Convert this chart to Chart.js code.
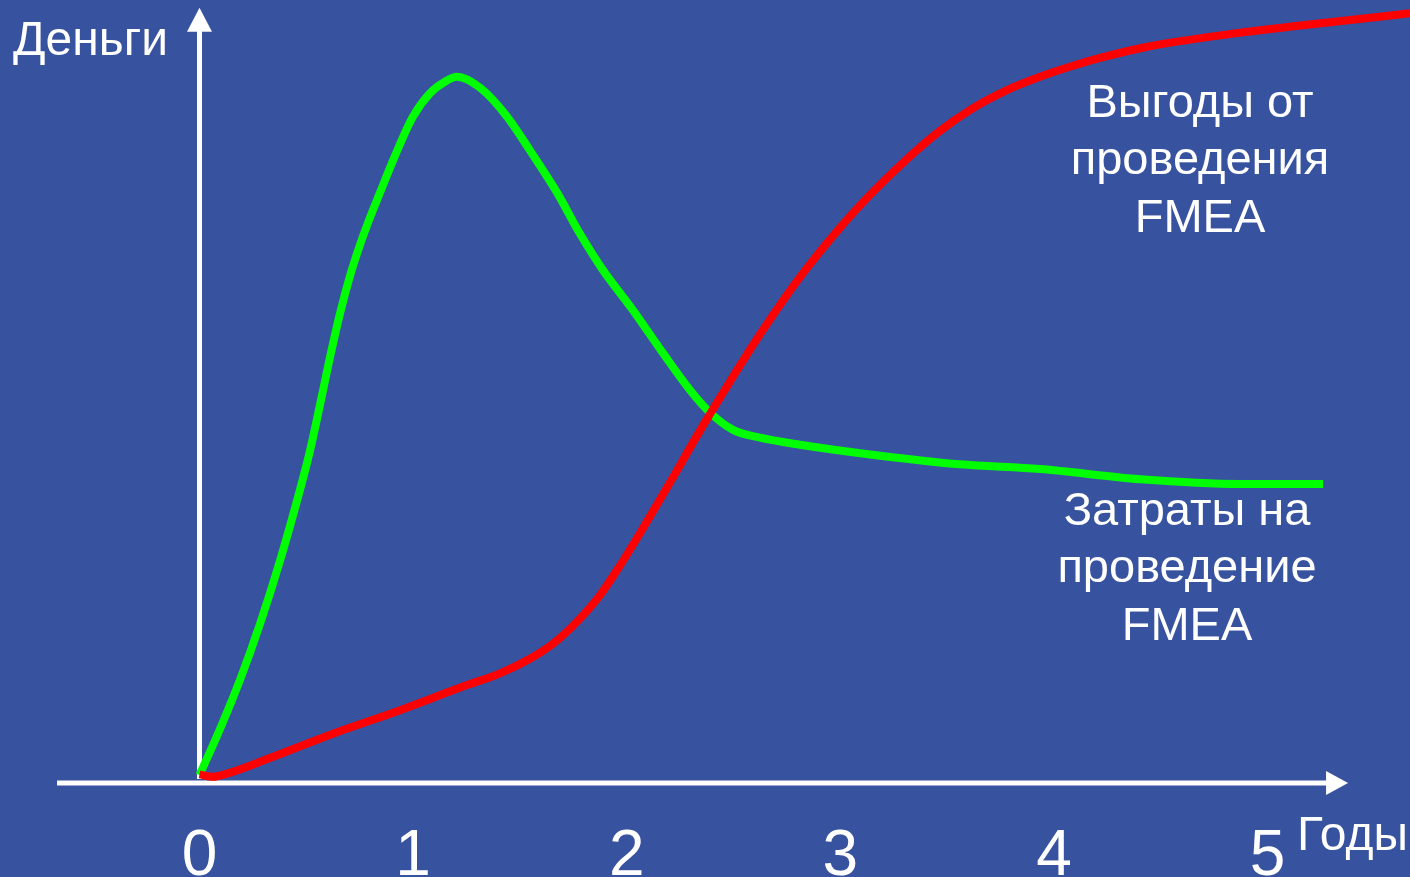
<!DOCTYPE html>
<html>
<head>
<meta charset="utf-8">
<script src="https://cdn.jsdelivr.net/npm/chart.js@4/dist/chart.umd.min.js"></script>
<style>
  html, body { margin: 0; padding: 0; background: #37529F; overflow: hidden; }
  canvas { display: block; }
</style>
</head>
<body>
<canvas id="c" width="1410" height="877" style="width:1410px;height:877px"></canvas>
<script>
// Years on the horizontal axis
const YEAR_TICKS = [0, 1, 2, 3, 4, 5];
const YEAR_LABELS = ['0', '1', '2', '3', '4', '5'];

// Затраты на проведение FMEA (green)
const costYears = [0.00, 0.096, 0.190, 0.283, 0.377, 0.470, 0.517, 0.564, 0.611, 0.658, 0.705, 0.751, 0.798,
  0.845, 0.915, 0.999, 1.079, 1.145, 1.206, 1.313, 1.440, 1.547, 1.674, 1.780, 1.889, 2.029, 2.170,
  2.296, 2.390, 2.498, 2.624, 2.811, 3.186, 3.560, 3.935, 4.403, 4.871, 5.260];
const costMoney = [1.0, 6.9, 13.2, 20.3, 28.4, 37.4, 42.4, 48.3, 54.4, 60.0, 64.8, 68.7, 72.2,
  75.4, 80.1, 85.1, 88.1, 89.5, 90.2, 88.8, 85.1, 80.8, 75.4, 70.2, 65.5, 60.4, 54.9,
  50.2, 47.3, 45.1, 44.1, 43.2, 41.8, 40.7, 40.1, 38.8, 38.2, 38.2];

// Выгоды от проведения FMEA (red)
const benefitYears = [0.00, 0.06, 0.14, 0.32, 0.625, 0.939, 1.252, 1.407, 1.561, 1.655, 1.767, 1.875, 1.969,
  2.062, 2.203, 2.343, 2.484, 2.624, 2.811, 2.998, 3.153, 3.312, 3.467, 3.621, 3.780, 3.935, 4.089,
  4.216, 4.431, 4.866, 5.302, 5.667];
const benefitMoney = [1.1, 0.8, 1.3, 3.1, 6.3, 9.3, 12.5, 14.0, 16.1, 17.8, 20.6, 24.0, 27.8,
  31.9, 38.4, 45.0, 51.3, 57.3, 64.6, 70.9, 75.5, 79.7, 83.3, 86.2, 88.5, 90.2, 91.6,
  92.6, 94.0, 95.8, 97.2, 98.3];

// Text blocks
const AXIS_Y_TITLE = 'Деньги';
const AXIS_X_TITLE = 'Годы';
const BENEFIT_TEXT = ['Выгоды от', 'проведения', 'FMEA'];
const COST_TEXT = ['Затраты на', 'проведение', 'FMEA'];

const FONT = '"Liberation Sans", Arial, Helvetica, sans-serif';
const WHITE = '#FFFFFF';

function toPoints(xs, ys) { return xs.map((x, i) => ({ x, y: ys[i] })); }

// Draws the two arrowed axes through the origin of the data scales
const arrowAxes = {
  id: 'arrowAxes',
  beforeDatasetsDraw(chart) {
    const { ctx, scales: { x, y } } = chart;
    const ox = x.getPixelForValue(0), oy = y.getPixelForValue(0);
    const xEnd = x.getPixelForValue(5.377), xStart = x.getPixelForValue(-0.667);
    const yEnd = y.getPixelForValue(99.0);
    ctx.save();
    ctx.strokeStyle = WHITE; ctx.fillStyle = WHITE; ctx.lineWidth = 5;
    ctx.beginPath(); ctx.moveTo(xStart, oy); ctx.lineTo(xEnd - 16, oy); ctx.stroke();
    ctx.beginPath(); ctx.moveTo(xEnd, oy); ctx.lineTo(xEnd - 22, oy - 12); ctx.lineTo(xEnd - 22, oy + 12); ctx.closePath(); ctx.fill();
    ctx.beginPath(); ctx.moveTo(ox, oy - 4); ctx.lineTo(ox, yEnd + 18); ctx.stroke();
    ctx.beginPath(); ctx.moveTo(ox, yEnd); ctx.lineTo(ox - 12.5, yEnd + 24); ctx.lineTo(ox + 12.5, yEnd + 24); ctx.closePath(); ctx.fill();
    ctx.restore();
  }
};

// Axis titles and curve captions
const captions = {
  id: 'captions',
  afterDatasetsDraw(chart) {
    const { ctx, scales: { x, y } } = chart;
    ctx.save();
    ctx.fillStyle = WHITE;
    ctx.textBaseline = 'alphabetic';
    ctx.font = '48px ' + FONT;
    ctx.textAlign = 'left';
    ctx.fillText(AXIS_Y_TITLE, 13, 55);
    ctx.fillText(AXIS_X_TITLE, 1297, 850);
    ctx.font = '47px ' + FONT;
    ctx.textAlign = 'center';
    const bx = x.getPixelForValue(4.684), by = y.getPixelForValue(85.1);
    BENEFIT_TEXT.forEach((t, i) => ctx.fillText(t, bx, by + i * 57.5));
    const cx = x.getPixelForValue(4.623), cy = y.getPixelForValue(32.95);
    COST_TEXT.forEach((t, i) => ctx.fillText(t, cx, cy + i * 57.5));
    ctx.restore();
  }
};

new Chart(document.getElementById('c'), {
  type: 'line',
  data: {
    datasets: [
      {
        label: 'Выгоды от проведения FMEA',
        data: toPoints(benefitYears, benefitMoney),
        borderColor: '#FF0000',
        borderWidth: 8,
        pointRadius: 0,
        cubicInterpolationMode: 'monotone',
        fill: false
      },
      {
        label: 'Затраты на проведение FMEA',
        data: toPoints(costYears, costMoney),
        borderColor: '#00FF00',
        borderWidth: 8,
        pointRadius: 0,
        cubicInterpolationMode: 'monotone',
        fill: false
      }
    ]
  },
  options: {
    responsive: false,
    animation: false,
    events: [],
    layout: { padding: 0 },
    plugins: { legend: { display: false }, tooltip: { enabled: false }, title: { display: false } },
    scales: {
      x: {
        type: 'linear',
        min: -0.934,
        max: 5.667,
        grid: { display: false, drawTicks: false },
        border: { display: false },
        afterBuildTicks: s => { s.ticks = YEAR_TICKS.map(v => ({ value: v })); },
        afterFit: s => { s.height = 58; },
        ticks: {
          color: WHITE,
          font: { family: FONT, size: 64 },
          padding: 0,
          maxRotation: 0,
          autoSkip: false,
          callback: v => YEAR_LABELS[YEAR_TICKS.indexOf(v)]
        }
      },
      y: {
        type: 'linear',
        display: false,
        min: -4.6,
        max: 100
      }
    }
  },
  plugins: [arrowAxes, captions]
});
</script>
</body>
</html>
